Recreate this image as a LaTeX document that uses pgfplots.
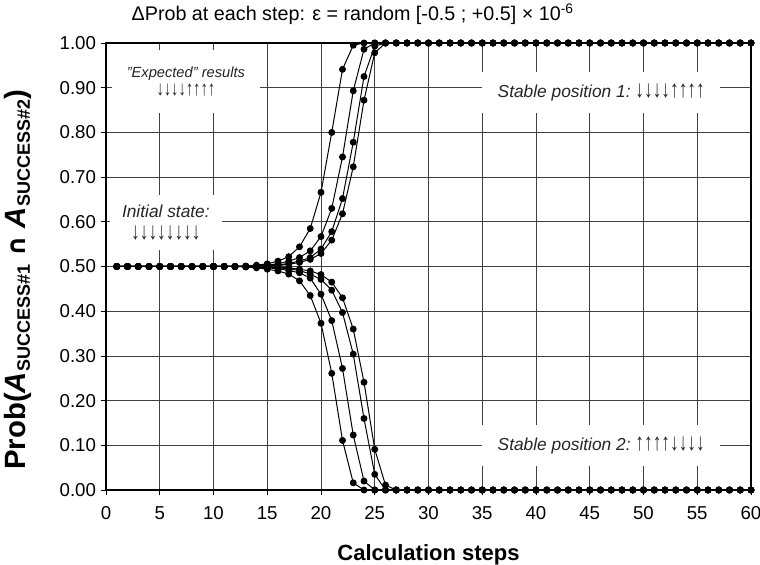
\documentclass[border=0pt]{standalone}
\usepackage{fontspec}
\setmainfont{Liberation Sans}
\newfontfamily\symfont{DejaVu Sans}
\usepackage{pgfplots}
\usepackage{pgfplotstable}
\pgfplotsset{compat=1.18}

% x = calculation step, u* = branches going to 1, d* = branches going to 0
\pgfplotstableread{
x  u1    u2    u3    u4    d1    d2    d3    d4
1  0.5   0.5   0.5   0.5   0.5   0.5   0.5   0.5
2  0.5   0.5   0.5   0.5   0.5   0.5   0.5   0.5
3  0.5   0.5   0.5   0.5   0.5   0.5   0.5   0.5
4  0.5   0.5   0.5   0.5   0.5   0.5   0.5   0.5
5  0.5   0.5   0.5   0.5   0.5   0.5   0.5   0.5
6  0.5   0.5   0.5   0.5   0.5   0.5   0.5   0.5
7  0.5   0.5   0.5   0.5   0.5   0.5   0.5   0.5
8  0.5   0.5   0.5   0.5   0.5   0.5   0.5   0.5
9  0.5   0.5   0.5   0.5   0.5   0.5   0.5   0.5
10 0.5   0.5   0.5   0.5   0.5   0.5   0.5   0.5
11 0.5   0.5   0.5   0.5   0.5   0.5   0.5   0.5
12 0.5   0.5   0.5   0.5   0.5   0.5   0.5   0.5
13 0.501 0.500 0.500 0.500 0.499 0.500 0.500 0.500
14 0.503 0.501 0.500 0.500 0.497 0.499 0.500 0.500
15 0.506 0.503 0.501 0.501 0.494 0.497 0.499 0.499
16 0.512 0.506 0.503 0.502 0.490 0.495 0.497 0.498
17 0.522 0.512 0.507 0.505 0.483 0.491 0.495 0.497
18 0.544 0.520 0.512 0.509 0.468 0.486 0.491 0.494
19 0.585 0.535 0.520 0.516 0.435 0.474 0.483 0.490
20 0.666 0.567 0.539 0.529 0.373 0.438 0.471 0.482
21 0.800 0.630 0.578 0.559 0.261 0.379 0.447 0.465
22 0.941 0.745 0.652 0.618 0.111 0.272 0.397 0.430
23 0.995 0.893 0.778 0.723 0.016 0.123 0.304 0.360
24 1.000 0.986 0.925 0.872 0.000 0.020 0.160 0.241
25 1.000 1.000 0.993 0.978 0.000 0.000 0.035 0.091
26 1     1     1     1     0     0     0     0.011
27 1     1     1     1     0     0     0     0
28 1     1     1     1     0     0     0     0
29 1     1     1     1     0     0     0     0
30 1     1     1     1     0     0     0     0
31 1     1     1     1     0     0     0     0
32 1     1     1     1     0     0     0     0
33 1     1     1     1     0     0     0     0
34 1     1     1     1     0     0     0     0
35 1     1     1     1     0     0     0     0
36 1     1     1     1     0     0     0     0
37 1     1     1     1     0     0     0     0
38 1     1     1     1     0     0     0     0
39 1     1     1     1     0     0     0     0
40 1     1     1     1     0     0     0     0
41 1     1     1     1     0     0     0     0
42 1     1     1     1     0     0     0     0
43 1     1     1     1     0     0     0     0
44 1     1     1     1     0     0     0     0
45 1     1     1     1     0     0     0     0
46 1     1     1     1     0     0     0     0
47 1     1     1     1     0     0     0     0
48 1     1     1     1     0     0     0     0
49 1     1     1     1     0     0     0     0
50 1     1     1     1     0     0     0     0
51 1     1     1     1     0     0     0     0
52 1     1     1     1     0     0     0     0
53 1     1     1     1     0     0     0     0
54 1     1     1     1     0     0     0     0
55 1     1     1     1     0     0     0     0
56 1     1     1     1     0     0     0     0
57 1     1     1     1     0     0     0     0
58 1     1     1     1     0     0     0     0
59 1     1     1     1     0     0     0     0
60 1     1     1     1     0     0     0     0
}\probdata

\newcommand{\sub}[1]{{\fontsize{13.5}{13.5}\selectfont\raisebox{-3pt}{#1}}}
\newcommand{\arr}[1]{\scalebox{1}[1.4]{#1}}

\tikzset{curve/.style={black, solid, line width=0.75pt, mark=*, mark size=2.2pt,
  mark options={solid, fill=black}}}

\begin{document}
\begin{tikzpicture}
\useasboundingbox (-79.5pt,-55.5pt) rectangle (490.5pt,367.5pt);
\begin{axis}[
  at={(0,0)}, anchor=south west,
  scale only axis, width=483.75pt, height=335.25pt,
  xmin=0, xmax=60, ymin=0, ymax=1,
  xtick={0,5,10,15,20,25,30,35,40,45,50,55,60},
  ytick={0,0.1,0.2,0.3,0.4,0.5,0.6,0.7,0.8,0.9,1},
  yticklabel style={/pgf/number format/.cd, fixed, fixed zerofill, precision=2},
  /pgf/number format/assume math mode=true,
  tick label style={font=\fontsize{14}{16}\selectfont},
  xticklabel style={yshift=-5pt},
  xtick pos=left, ytick pos=left,
  tick align=outside, major tick length=4pt,
  tick style={black, line width=0.6pt},
  grid=major,
  major grid style={black!75, line width=0.6pt},
  axis line style={black, line width=0.8pt},
  clip mode=individual,
  xlabel={Calculation steps},
  xlabel style={font=\fontsize{16.5}{18}\selectfont\bfseries,
    at={(axis description cs:0.5,-0.145)}, anchor=center},
  ylabel={Prob(\textit{A}\sub{SUCCESS\#1} {\symfont\fontsize{19}{19}\selectfont ∩} \textit{A}\sub{SUCCESS\#2})},
  ylabel style={font=\fontsize{22}{24}\selectfont\bfseries,
    at={(axis description cs:-0.136,0.47)}, anchor=center},
]
\addplot[curve] table[x=x, y=u1] {\probdata};
\addplot[curve] table[x=x, y=u2] {\probdata};
\addplot[curve] table[x=x, y=u3] {\probdata};
\addplot[curve] table[x=x, y=u4] {\probdata};
\addplot[curve] table[x=x, y=d1] {\probdata};
\addplot[curve] table[x=x, y=d2] {\probdata};
\addplot[curve] table[x=x, y=d3] {\probdata};
\addplot[curve] table[x=x, y=d4] {\probdata};

\node[anchor=base west, font=\fontsize{14.8}{16}\selectfont]
  at (axis cs:1.95,1) [yshift=17pt] {ΔProb at each step: ε = random [-0.5 ; +0.5] × 10\textsuperscript{-6}};

\node[fill=white, minimum width=111pt, minimum height=47pt, inner sep=0pt, align=center,
  font=\fontsize{11}{13.5}\selectfont, text=black!85]
  at (axis cs:7.43,0.914) {\textit{"Expected" results}\\ \arr{↓↓↓↓↑↑↑↑}};
\node[fill=white, minimum width=84pt, minimum height=41pt, inner sep=0pt, align=center,
  font=\fontsize{13}{15}\selectfont, text=black!85]
  at (axis cs:5.57,0.598) {\textit{Initial state:}\\[2pt] \arr{↓↓↓↓↓↓↓↓}};
\node[fill=white, minimum width=178.5pt, minimum height=31pt, inner sep=0pt,
  font=\fontsize{13}{15}\selectfont, text=black!85]
  at (axis cs:46.07,0.889) {\textit{Stable position 1:}\ \arr{↓↓↓↓↑↑↑↑}};
\node[fill=white, minimum width=178.5pt, minimum height=31pt, inner sep=0pt,
  font=\fontsize{13}{15}\selectfont, text=black!85]
  at (axis cs:46.07,0.10) {\textit{Stable position 2:}\ \arr{↑↑↑↑↓↓↓↓}};
\end{axis}
\end{tikzpicture}
\end{document}
